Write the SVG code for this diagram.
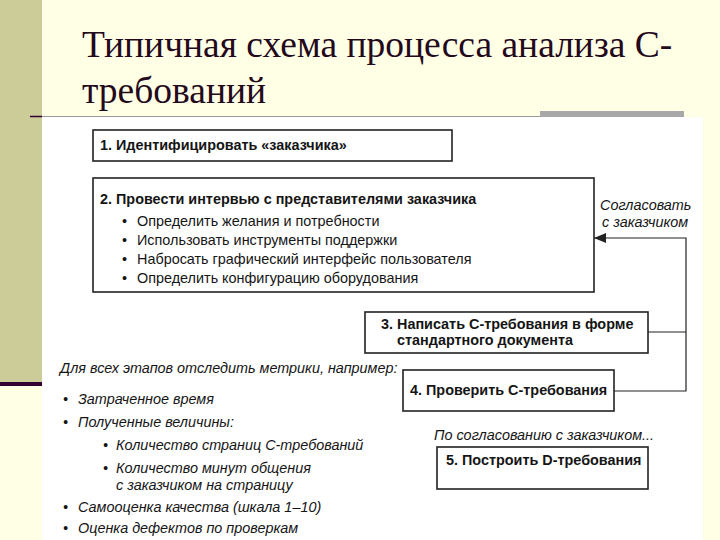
<svg xmlns="http://www.w3.org/2000/svg" width="720" height="540" viewBox="0 0 720 540">
<style>
.t{font-family:"Liberation Sans",Arial,sans-serif;fill:#151515}
.b{font-weight:bold;font-size:14.4px}
.r{font-size:14.4px}
.i{font-style:italic;font-size:14.4px}
.box{fill:#fff;stroke:#222;stroke-width:1.6}
.con{fill:none;stroke:#222;stroke-width:1.2}
.title{font-family:"Liberation Serif","Times New Roman",serif;font-size:37.5px;fill:#24081c}
</style>
<defs>
<marker id="ah" viewBox="0 0 12 10" refX="12" refY="5" markerWidth="12" markerHeight="10" markerUnits="userSpaceOnUse" orient="auto">
<path d="M0,0 L12,5 L0,10 z" fill="#222"/>
</marker>
</defs>
<rect width="720" height="540" fill="#FFFFE5"/>
<rect x="0" y="0" width="42" height="383" fill="#CCCC99"/>
<rect x="0" y="382" width="42" height="4" fill="#330033"/>
<rect x="42" y="117" width="661" height="423" fill="#fff"/>
<line x1="30" y1="116.5" x2="540" y2="116.5" stroke="#9a9a9a" stroke-width="1"/>
<line x1="30" y1="116.5" x2="42" y2="116.5" stroke="#330033" stroke-width="1.5"/>
<rect x="540" y="111" width="144" height="6" fill="#A8A8A8"/>
<text class="title" x="82" y="57">Типичная схема процесса анализа С-</text>
<text class="title" x="82" y="103">требований</text>

<g id="connectors">
<polyline class="con" points="614,391 686,391 686,238 594,238" marker-end="url(#ah)"/>
<line class="con" x1="648" y1="332" x2="686" y2="332"/>
</g>

<g id="node1">
<rect class="box" x="93" y="130" width="359" height="31"/>
<text class="t b" x="100" y="150">1. Идентифицировать «заказчика»</text>
</g>

<g id="node2">
<rect class="box" x="93" y="178" width="501" height="114"/>
<text class="t b" x="100" y="204">2. Провести интервью с представителями заказчика</text>
<text class="t r" x="122" y="226">•</text><text class="t r" x="137" y="226">Определить желания и потребности</text>
<text class="t r" x="122" y="245">•</text><text class="t r" x="137" y="245">Использовать инструменты поддержки</text>
<text class="t r" x="122" y="264">•</text><text class="t r" x="137" y="264">Набросать графический интерфейс пользователя</text>
<text class="t r" x="122" y="283">•</text><text class="t r" x="137" y="283">Определить конфигурацию оборудования</text>
</g>

<g id="label-agree">
<text class="t i" x="600" y="210">Согласовать</text>
<text class="t i" x="602" y="227">с заказчиком</text>
</g>

<g id="node3">
<rect class="box" x="365" y="312" width="283" height="41"/>
<text class="t b" x="381" y="329">3. Написать С-требования в форме</text>
<text class="t b" x="397" y="345">стандартного документа</text>
</g>

<g id="node4">
<rect class="box" x="403" y="370" width="211" height="41"/>
<text class="t b" x="410" y="395">4. Проверить С-требования</text>
</g>

<g id="metrics">
<text class="t i" x="60" y="373">Для всех этапов отследить метрики, например:</text>
<text class="t i" x="63" y="404">•</text><text class="t i" x="78" y="404">Затраченное время</text>
<text class="t i" x="63" y="427">•</text><text class="t i" x="78" y="427">Полученные величины:</text>
<text class="t i" x="103" y="450">•</text><text class="t i" x="116" y="450">Количество страниц С-требований</text>
<text class="t i" x="103" y="473">•</text><text class="t i" x="116" y="473">Количество минут общения</text>
<text class="t i" x="116" y="490">с заказчиком на страницу</text>
<text class="t i" x="63" y="512">•</text><text class="t i" x="78" y="512">Самооценка качества (шкала 1–10)</text>
<text class="t i" x="63" y="533">•</text><text class="t i" x="78" y="533">Оценка дефектов по проверкам</text>
</g>

<g id="label-later">
<text class="t i" x="434" y="440">По согласованию с заказчиком...</text>
</g>

<g id="node5">
<rect class="box" x="437" y="447" width="211" height="42"/>
<text class="t b" x="446" y="465">5. Построить D-требования</text>
</g>
</svg>
